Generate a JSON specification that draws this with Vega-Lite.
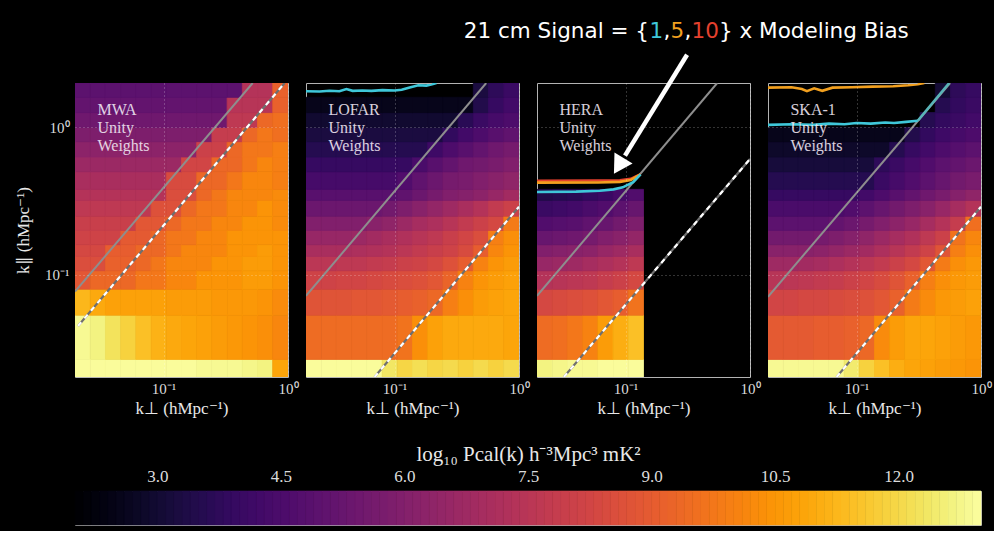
{
"$schema":"https://vega.github.io/schema/vega-lite/v6.json",
"background":"black",
"padding":{"left":14,"top":20,"right":5,"bottom":5},
"datasets":{
"xb":[{"i":0,"x":0.0194,"xe":0.0257},{"i":1,"x":0.0257,"xe":0.0341},{"i":2,"x":0.0341,"xe":0.0452},{"i":3,"x":0.0452,"xe":0.0599},{"i":4,"x":0.0599,"xe":0.0793},{"i":5,"x":0.0793,"xe":0.1051},{"i":6,"x":0.1051,"xe":0.1393},{"i":7,"x":0.1393,"xe":0.1845},{"i":8,"x":0.1845,"xe":0.2445},{"i":9,"x":0.2445,"xe":0.324},{"i":10,"x":0.324,"xe":0.4293},{"i":11,"x":0.4293,"xe":0.5688},{"i":12,"x":0.5688,"xe":0.7537},{"i":13,"x":0.7537,"xe":1.0}],
"yb":[{"j":0,"y":0.02,"ye":0.0267},{"j":1,"y":0.0267,"ye":0.0533},{"j":2,"y":0.0533,"ye":0.08},{"j":3,"y":0.08,"ye":0.1067},{"j":4,"y":0.1067,"ye":0.1333},{"j":5,"y":0.1333,"ye":0.16},{"j":6,"y":0.16,"ye":0.2},{"j":7,"y":0.2,"ye":0.25},{"j":8,"y":0.25,"ye":0.32},{"j":9,"y":0.32,"ye":0.38},{"j":10,"y":0.38,"ye":0.5},{"j":11,"y":0.5,"ye":0.63},{"j":12,"y":0.63,"ye":0.8},{"j":13,"y":0.8,"ye":1.0},{"j":14,"y":1.0,"ye":1.26},{"j":15,"y":1.26,"ye":1.6},{"j":16,"y":1.6,"ye":2.0}],
"cb":[{"a":2.0,"b":2.1},{"a":2.1,"b":2.2},{"a":2.2,"b":2.3},{"a":2.3,"b":2.4},{"a":2.4,"b":2.5},{"a":2.5,"b":2.6},{"a":2.6,"b":2.7},{"a":2.7,"b":2.8},{"a":2.8,"b":2.9},{"a":2.9,"b":3.0},{"a":3.0,"b":3.1},{"a":3.1,"b":3.2},{"a":3.2,"b":3.3},{"a":3.3,"b":3.4},{"a":3.4,"b":3.5},{"a":3.5,"b":3.6},{"a":3.6,"b":3.7},{"a":3.7,"b":3.8},{"a":3.8,"b":3.9},{"a":3.9,"b":4.0},{"a":4.0,"b":4.1},{"a":4.1,"b":4.2},{"a":4.2,"b":4.3},{"a":4.3,"b":4.4},{"a":4.4,"b":4.5},{"a":4.5,"b":4.6},{"a":4.6,"b":4.7},{"a":4.7,"b":4.8},{"a":4.8,"b":4.9},{"a":4.9,"b":5.0},{"a":5.0,"b":5.1},{"a":5.1,"b":5.2},{"a":5.2,"b":5.3},{"a":5.3,"b":5.4},{"a":5.4,"b":5.5},{"a":5.5,"b":5.6},{"a":5.6,"b":5.7},{"a":5.7,"b":5.8},{"a":5.8,"b":5.9},{"a":5.9,"b":6.0},{"a":6.0,"b":6.1},{"a":6.1,"b":6.2},{"a":6.2,"b":6.3},{"a":6.3,"b":6.4},{"a":6.4,"b":6.5},{"a":6.5,"b":6.6},{"a":6.6,"b":6.7},{"a":6.7,"b":6.8},{"a":6.8,"b":6.9},{"a":6.9,"b":7.0},{"a":7.0,"b":7.1},{"a":7.1,"b":7.2},{"a":7.2,"b":7.3},{"a":7.3,"b":7.4},{"a":7.4,"b":7.5},{"a":7.5,"b":7.6},{"a":7.6,"b":7.7},{"a":7.7,"b":7.8},{"a":7.8,"b":7.9},{"a":7.9,"b":8.0},{"a":8.0,"b":8.1},{"a":8.1,"b":8.2},{"a":8.2,"b":8.3},{"a":8.3,"b":8.4},{"a":8.4,"b":8.5},{"a":8.5,"b":8.6},{"a":8.6,"b":8.7},{"a":8.7,"b":8.8},{"a":8.8,"b":8.9},{"a":8.9,"b":9.0},{"a":9.0,"b":9.1},{"a":9.1,"b":9.2},{"a":9.2,"b":9.3},{"a":9.3,"b":9.4},{"a":9.4,"b":9.5},{"a":9.5,"b":9.6},{"a":9.6,"b":9.7},{"a":9.7,"b":9.8},{"a":9.8,"b":9.9},{"a":9.9,"b":10.0},{"a":10.0,"b":10.1},{"a":10.1,"b":10.2},{"a":10.2,"b":10.3},{"a":10.3,"b":10.4},{"a":10.4,"b":10.5},{"a":10.5,"b":10.6},{"a":10.6,"b":10.7},{"a":10.7,"b":10.8},{"a":10.8,"b":10.9},{"a":10.9,"b":11.0},{"a":11.0,"b":11.1},{"a":11.1,"b":11.2},{"a":11.2,"b":11.3},{"a":11.3,"b":11.4},{"a":11.4,"b":11.5},{"a":11.5,"b":11.6},{"a":11.6,"b":11.7},{"a":11.7,"b":11.8},{"a":11.8,"b":11.9},{"a":11.9,"b":12.0},{"a":12.0,"b":12.1},{"a":12.1,"b":12.2},{"a":12.2,"b":12.3},{"a":12.3,"b":12.4},{"a":12.4,"b":12.5},{"a":12.5,"b":12.6},{"a":12.6,"b":12.7},{"a":12.7,"b":12.8},{"a":12.8,"b":12.9},{"a":12.9,"b":13.0}],
"m":[
{"p":"M","i":0,"j":0,"v":12.9},{"p":"M","i":1,"j":0,"v":12.9},{"p":"M","i":2,"j":0,"v":12.9},{"p":"M","i":3,"j":0,"v":12.9},{"p":"M","i":4,"j":0,"v":12.9},{"p":"M","i":5,"j":0,"v":12.9},{"p":"M","i":6,"j":0,"v":12.9},{"p":"M","i":7,"j":0,"v":12.9},{"p":"M","i":8,"j":0,"v":12.8},{"p":"M","i":9,"j":0,"v":12.8},{"p":"M","i":10,"j":0,"v":12.8},{"p":"M","i":11,"j":0,"v":12.7},{"p":"M","i":12,"j":0,"v":12.6},{"p":"M","i":13,"j":0,"v":10.8},
{"p":"M","i":0,"j":1,"v":12.8},{"p":"M","i":1,"j":1,"v":12.6},{"p":"M","i":2,"j":1,"v":12.2},{"p":"M","i":3,"j":1,"v":11.8},{"p":"M","i":4,"j":1,"v":11.4},{"p":"M","i":5,"j":1,"v":11.1},{"p":"M","i":6,"j":1,"v":10.9},{"p":"M","i":7,"j":1,"v":10.8},{"p":"M","i":8,"j":1,"v":10.7},{"p":"M","i":9,"j":1,"v":10.6},{"p":"M","i":10,"j":1,"v":10.5},{"p":"M","i":11,"j":1,"v":10.4},{"p":"M","i":12,"j":1,"v":10.3},{"p":"M","i":13,"j":1,"v":10.1},
{"p":"M","i":0,"j":2,"v":11.2},{"p":"M","i":1,"j":2,"v":10.9},{"p":"M","i":2,"j":2,"v":10.7},{"p":"M","i":3,"j":2,"v":10.7},{"p":"M","i":4,"j":2,"v":10.7},{"p":"M","i":5,"j":2,"v":10.7},{"p":"M","i":6,"j":2,"v":10.6},{"p":"M","i":7,"j":2,"v":10.6},{"p":"M","i":8,"j":2,"v":10.6},{"p":"M","i":9,"j":2,"v":10.5},{"p":"M","i":10,"j":2,"v":10.5},{"p":"M","i":11,"j":2,"v":10.5},{"p":"M","i":12,"j":2,"v":10.4},{"p":"M","i":13,"j":2,"v":10.2},
{"p":"M","i":0,"j":3,"v":8.8},{"p":"M","i":1,"j":3,"v":9.3},{"p":"M","i":2,"j":3,"v":9.3},{"p":"M","i":3,"j":3,"v":9.3},{"p":"M","i":4,"j":3,"v":9.7},{"p":"M","i":5,"j":3,"v":9.7},{"p":"M","i":6,"j":3,"v":10.1},{"p":"M","i":7,"j":3,"v":10.1},{"p":"M","i":8,"j":3,"v":10.4},{"p":"M","i":9,"j":3,"v":10.4},{"p":"M","i":10,"j":3,"v":10.4},{"p":"M","i":11,"j":3,"v":10.6},{"p":"M","i":12,"j":3,"v":10.6},{"p":"M","i":13,"j":3,"v":10.4},
{"p":"M","i":0,"j":4,"v":8.5},{"p":"M","i":1,"j":4,"v":8.5},{"p":"M","i":2,"j":4,"v":9.1},{"p":"M","i":3,"j":4,"v":9.1},{"p":"M","i":4,"j":4,"v":9.3},{"p":"M","i":5,"j":4,"v":9.7},{"p":"M","i":6,"j":4,"v":10.1},{"p":"M","i":7,"j":4,"v":10.1},{"p":"M","i":8,"j":4,"v":10.1},{"p":"M","i":9,"j":4,"v":10.4},{"p":"M","i":10,"j":4,"v":10.4},{"p":"M","i":11,"j":4,"v":10.6},{"p":"M","i":12,"j":4,"v":10.6},{"p":"M","i":13,"j":4,"v":10.4},
{"p":"M","i":0,"j":5,"v":8.3},{"p":"M","i":1,"j":5,"v":8.3},{"p":"M","i":2,"j":5,"v":9.0},{"p":"M","i":3,"j":5,"v":9.0},{"p":"M","i":4,"j":5,"v":9.3},{"p":"M","i":5,"j":5,"v":9.3},{"p":"M","i":6,"j":5,"v":9.7},{"p":"M","i":7,"j":5,"v":10.1},{"p":"M","i":8,"j":5,"v":10.1},{"p":"M","i":9,"j":5,"v":10.1},{"p":"M","i":10,"j":5,"v":10.4},{"p":"M","i":11,"j":5,"v":10.4},{"p":"M","i":12,"j":5,"v":10.6},{"p":"M","i":13,"j":5,"v":10.4},
{"p":"M","i":0,"j":6,"v":8.1},{"p":"M","i":1,"j":6,"v":8.1},{"p":"M","i":2,"j":6,"v":8.1},{"p":"M","i":3,"j":6,"v":8.9},{"p":"M","i":4,"j":6,"v":8.9},{"p":"M","i":5,"j":6,"v":9.3},{"p":"M","i":6,"j":6,"v":9.7},{"p":"M","i":7,"j":6,"v":9.7},{"p":"M","i":8,"j":6,"v":10.1},{"p":"M","i":9,"j":6,"v":10.1},{"p":"M","i":10,"j":6,"v":10.4},{"p":"M","i":11,"j":6,"v":10.4},{"p":"M","i":12,"j":6,"v":10.4},{"p":"M","i":13,"j":6,"v":10.4},
{"p":"M","i":0,"j":7,"v":7.9},{"p":"M","i":1,"j":7,"v":7.9},{"p":"M","i":2,"j":7,"v":7.9},{"p":"M","i":3,"j":7,"v":7.9},{"p":"M","i":4,"j":7,"v":8.8},{"p":"M","i":5,"j":7,"v":8.8},{"p":"M","i":6,"j":7,"v":9.3},{"p":"M","i":7,"j":7,"v":9.7},{"p":"M","i":8,"j":7,"v":9.7},{"p":"M","i":9,"j":7,"v":10.1},{"p":"M","i":10,"j":7,"v":10.1},{"p":"M","i":11,"j":7,"v":10.4},{"p":"M","i":12,"j":7,"v":10.4},{"p":"M","i":13,"j":7,"v":10.2},
{"p":"M","i":0,"j":8,"v":7.6},{"p":"M","i":1,"j":8,"v":7.6},{"p":"M","i":2,"j":8,"v":7.6},{"p":"M","i":3,"j":8,"v":7.6},{"p":"M","i":4,"j":8,"v":7.6},{"p":"M","i":5,"j":8,"v":8.6},{"p":"M","i":6,"j":8,"v":8.6},{"p":"M","i":7,"j":8,"v":9.3},{"p":"M","i":8,"j":8,"v":9.7},{"p":"M","i":9,"j":8,"v":9.7},{"p":"M","i":10,"j":8,"v":10.1},{"p":"M","i":11,"j":8,"v":10.1},{"p":"M","i":12,"j":8,"v":10.4},{"p":"M","i":13,"j":8,"v":10.2},
{"p":"M","i":0,"j":9,"v":7.3},{"p":"M","i":1,"j":9,"v":7.3},{"p":"M","i":2,"j":9,"v":7.3},{"p":"M","i":3,"j":9,"v":7.3},{"p":"M","i":4,"j":9,"v":7.3},{"p":"M","i":5,"j":9,"v":7.3},{"p":"M","i":6,"j":9,"v":8.5},{"p":"M","i":7,"j":9,"v":8.5},{"p":"M","i":8,"j":9,"v":9.3},{"p":"M","i":9,"j":9,"v":9.7},{"p":"M","i":10,"j":9,"v":10.1},{"p":"M","i":11,"j":9,"v":10.1},{"p":"M","i":12,"j":9,"v":10.1},{"p":"M","i":13,"j":9,"v":10.2},
{"p":"M","i":0,"j":10,"v":7.0},{"p":"M","i":1,"j":10,"v":7.0},{"p":"M","i":2,"j":10,"v":7.0},{"p":"M","i":3,"j":10,"v":7.0},{"p":"M","i":4,"j":10,"v":7.0},{"p":"M","i":5,"j":10,"v":7.0},{"p":"M","i":6,"j":10,"v":8.4},{"p":"M","i":7,"j":10,"v":8.4},{"p":"M","i":8,"j":10,"v":9.3},{"p":"M","i":9,"j":10,"v":9.3},{"p":"M","i":10,"j":10,"v":9.7},{"p":"M","i":11,"j":10,"v":10.1},{"p":"M","i":12,"j":10,"v":10.1},{"p":"M","i":13,"j":10,"v":9.9},
{"p":"M","i":0,"j":11,"v":6.6},{"p":"M","i":1,"j":11,"v":6.6},{"p":"M","i":2,"j":11,"v":6.6},{"p":"M","i":3,"j":11,"v":6.6},{"p":"M","i":4,"j":11,"v":6.6},{"p":"M","i":5,"j":11,"v":6.6},{"p":"M","i":6,"j":11,"v":6.6},{"p":"M","i":7,"j":11,"v":8.2},{"p":"M","i":8,"j":11,"v":8.2},{"p":"M","i":9,"j":11,"v":9.3},{"p":"M","i":10,"j":11,"v":9.3},{"p":"M","i":11,"j":11,"v":9.7},{"p":"M","i":12,"j":11,"v":10.1},{"p":"M","i":13,"j":11,"v":9.9},
{"p":"M","i":0,"j":12,"v":6.2},{"p":"M","i":1,"j":12,"v":6.2},{"p":"M","i":2,"j":12,"v":6.2},{"p":"M","i":3,"j":12,"v":6.2},{"p":"M","i":4,"j":12,"v":6.2},{"p":"M","i":5,"j":12,"v":6.2},{"p":"M","i":6,"j":12,"v":6.2},{"p":"M","i":7,"j":12,"v":6.2},{"p":"M","i":8,"j":12,"v":8.0},{"p":"M","i":9,"j":12,"v":8.0},{"p":"M","i":10,"j":12,"v":9.3},{"p":"M","i":11,"j":12,"v":9.7},{"p":"M","i":12,"j":12,"v":9.7},{"p":"M","i":13,"j":12,"v":9.9},
{"p":"M","i":0,"j":13,"v":5.8},{"p":"M","i":1,"j":13,"v":5.8},{"p":"M","i":2,"j":13,"v":5.8},{"p":"M","i":3,"j":13,"v":5.8},{"p":"M","i":4,"j":13,"v":5.8},{"p":"M","i":5,"j":13,"v":5.8},{"p":"M","i":6,"j":13,"v":5.8},{"p":"M","i":7,"j":13,"v":5.8},{"p":"M","i":8,"j":13,"v":5.8},{"p":"M","i":9,"j":13,"v":7.8},{"p":"M","i":10,"j":13,"v":7.8},{"p":"M","i":11,"j":13,"v":9.3},{"p":"M","i":12,"j":13,"v":9.7},{"p":"M","i":13,"j":13,"v":9.5},
{"p":"M","i":0,"j":14,"v":5.4},{"p":"M","i":1,"j":14,"v":5.4},{"p":"M","i":2,"j":14,"v":5.4},{"p":"M","i":3,"j":14,"v":5.4},{"p":"M","i":4,"j":14,"v":5.4},{"p":"M","i":5,"j":14,"v":5.4},{"p":"M","i":6,"j":14,"v":5.4},{"p":"M","i":7,"j":14,"v":5.4},{"p":"M","i":8,"j":14,"v":5.4},{"p":"M","i":9,"j":14,"v":5.4},{"p":"M","i":10,"j":14,"v":7.6},{"p":"M","i":11,"j":14,"v":7.6},{"p":"M","i":12,"j":14,"v":9.3},{"p":"M","i":13,"j":14,"v":9.5},
{"p":"M","i":0,"j":15,"v":5.1},{"p":"M","i":1,"j":15,"v":5.1},{"p":"M","i":2,"j":15,"v":5.1},{"p":"M","i":3,"j":15,"v":5.1},{"p":"M","i":4,"j":15,"v":5.1},{"p":"M","i":5,"j":15,"v":5.1},{"p":"M","i":6,"j":15,"v":5.1},{"p":"M","i":7,"j":15,"v":5.1},{"p":"M","i":8,"j":15,"v":5.1},{"p":"M","i":9,"j":15,"v":5.1},{"p":"M","i":10,"j":15,"v":7.4},{"p":"M","i":11,"j":15,"v":7.4},{"p":"M","i":12,"j":15,"v":7.4},{"p":"M","i":13,"j":15,"v":9.1},
{"p":"M","i":0,"j":16,"v":4.9},{"p":"M","i":1,"j":16,"v":4.9},{"p":"M","i":2,"j":16,"v":4.9},{"p":"M","i":3,"j":16,"v":4.9},{"p":"M","i":4,"j":16,"v":4.9},{"p":"M","i":5,"j":16,"v":4.9},{"p":"M","i":6,"j":16,"v":4.9},{"p":"M","i":7,"j":16,"v":4.9},{"p":"M","i":8,"j":16,"v":4.9},{"p":"M","i":9,"j":16,"v":4.9},{"p":"M","i":10,"j":16,"v":4.9},{"p":"M","i":11,"j":16,"v":7.3},{"p":"M","i":12,"j":16,"v":7.3},{"p":"M","i":13,"j":16,"v":9.1},
{"p":"L","i":0,"j":0,"v":12.9},{"p":"L","i":1,"j":0,"v":12.9},{"p":"L","i":2,"j":0,"v":12.9},{"p":"L","i":3,"j":0,"v":12.9},{"p":"L","i":4,"j":0,"v":12.9},{"p":"L","i":5,"j":0,"v":12.3},{"p":"L","i":6,"j":0,"v":11.9},{"p":"L","i":7,"j":0,"v":12.1},{"p":"L","i":8,"j":0,"v":11.9},{"p":"L","i":9,"j":0,"v":12.0},{"p":"L","i":10,"j":0,"v":11.8},{"p":"L","i":11,"j":0,"v":12.0},{"p":"L","i":12,"j":0,"v":11.8},{"p":"L","i":13,"j":0,"v":12.0},
{"p":"L","i":0,"j":1,"v":9.4},{"p":"L","i":1,"j":1,"v":9.4},{"p":"L","i":2,"j":1,"v":9.4},{"p":"L","i":3,"j":1,"v":9.4},{"p":"L","i":4,"j":1,"v":9.4},{"p":"L","i":5,"j":1,"v":9.4},{"p":"L","i":6,"j":1,"v":9.6},{"p":"L","i":7,"j":1,"v":10.3},{"p":"L","i":8,"j":1,"v":10.7},{"p":"L","i":9,"j":1,"v":10.9},{"p":"L","i":10,"j":1,"v":10.9},{"p":"L","i":11,"j":1,"v":10.9},{"p":"L","i":12,"j":1,"v":10.9},{"p":"L","i":13,"j":1,"v":10.8},
{"p":"L","i":0,"j":2,"v":8.7},{"p":"L","i":1,"j":2,"v":8.7},{"p":"L","i":2,"j":2,"v":8.7},{"p":"L","i":3,"j":2,"v":8.8},{"p":"L","i":4,"j":2,"v":8.8},{"p":"L","i":5,"j":2,"v":8.9},{"p":"L","i":6,"j":2,"v":9.0},{"p":"L","i":7,"j":2,"v":9.1},{"p":"L","i":8,"j":2,"v":9.3},{"p":"L","i":9,"j":2,"v":9.9},{"p":"L","i":10,"j":2,"v":10.3},{"p":"L","i":11,"j":2,"v":10.6},{"p":"L","i":12,"j":2,"v":10.7},{"p":"L","i":13,"j":2,"v":10.8},
{"p":"L","i":0,"j":3,"v":8.1},{"p":"L","i":1,"j":3,"v":8.1},{"p":"L","i":2,"j":3,"v":8.2},{"p":"L","i":3,"j":3,"v":8.2},{"p":"L","i":4,"j":3,"v":8.3},{"p":"L","i":5,"j":3,"v":8.4},{"p":"L","i":6,"j":3,"v":8.5},{"p":"L","i":7,"j":3,"v":8.6},{"p":"L","i":8,"j":3,"v":8.8},{"p":"L","i":9,"j":3,"v":9.2},{"p":"L","i":10,"j":3,"v":10.0},{"p":"L","i":11,"j":3,"v":10.4},{"p":"L","i":12,"j":3,"v":10.6},{"p":"L","i":13,"j":3,"v":10.7},
{"p":"L","i":0,"j":4,"v":7.5},{"p":"L","i":1,"j":4,"v":7.5},{"p":"L","i":2,"j":4,"v":7.6},{"p":"L","i":3,"j":4,"v":7.6},{"p":"L","i":4,"j":4,"v":7.7},{"p":"L","i":5,"j":4,"v":7.8},{"p":"L","i":6,"j":4,"v":8.0},{"p":"L","i":7,"j":4,"v":8.1},{"p":"L","i":8,"j":4,"v":8.3},{"p":"L","i":9,"j":4,"v":8.6},{"p":"L","i":10,"j":4,"v":9.0},{"p":"L","i":11,"j":4,"v":10.0},{"p":"L","i":12,"j":4,"v":10.4},{"p":"L","i":13,"j":4,"v":10.6},
{"p":"L","i":0,"j":5,"v":7.0},{"p":"L","i":1,"j":5,"v":7.0},{"p":"L","i":2,"j":5,"v":7.0},{"p":"L","i":3,"j":5,"v":7.1},{"p":"L","i":4,"j":5,"v":7.2},{"p":"L","i":5,"j":5,"v":7.3},{"p":"L","i":6,"j":5,"v":7.5},{"p":"L","i":7,"j":5,"v":7.7},{"p":"L","i":8,"j":5,"v":7.9},{"p":"L","i":9,"j":5,"v":8.1},{"p":"L","i":10,"j":5,"v":8.4},{"p":"L","i":11,"j":5,"v":9.0},{"p":"L","i":12,"j":5,"v":10.1},{"p":"L","i":13,"j":5,"v":10.4},
{"p":"L","i":0,"j":6,"v":6.5},{"p":"L","i":1,"j":6,"v":6.5},{"p":"L","i":2,"j":6,"v":6.5},{"p":"L","i":3,"j":6,"v":6.6},{"p":"L","i":4,"j":6,"v":6.8},{"p":"L","i":5,"j":6,"v":7.0},{"p":"L","i":6,"j":6,"v":7.2},{"p":"L","i":7,"j":6,"v":7.4},{"p":"L","i":8,"j":6,"v":7.6},{"p":"L","i":9,"j":6,"v":7.9},{"p":"L","i":10,"j":6,"v":8.2},{"p":"L","i":11,"j":6,"v":8.5},{"p":"L","i":12,"j":6,"v":9.9},{"p":"L","i":13,"j":6,"v":10.3},
{"p":"L","i":0,"j":7,"v":5.9},{"p":"L","i":1,"j":7,"v":5.9},{"p":"L","i":2,"j":7,"v":5.9},{"p":"L","i":3,"j":7,"v":5.9},{"p":"L","i":4,"j":7,"v":6.1},{"p":"L","i":5,"j":7,"v":6.3},{"p":"L","i":6,"j":7,"v":6.6},{"p":"L","i":7,"j":7,"v":6.9},{"p":"L","i":8,"j":7,"v":7.1},{"p":"L","i":9,"j":7,"v":7.4},{"p":"L","i":10,"j":7,"v":7.7},{"p":"L","i":11,"j":7,"v":8.0},{"p":"L","i":12,"j":7,"v":8.3},{"p":"L","i":13,"j":7,"v":9.8},
{"p":"L","i":0,"j":8,"v":5.3},{"p":"L","i":1,"j":8,"v":5.3},{"p":"L","i":2,"j":8,"v":5.3},{"p":"L","i":3,"j":8,"v":5.3},{"p":"L","i":4,"j":8,"v":5.3},{"p":"L","i":5,"j":8,"v":5.5},{"p":"L","i":6,"j":8,"v":5.8},{"p":"L","i":7,"j":8,"v":6.1},{"p":"L","i":8,"j":8,"v":6.4},{"p":"L","i":9,"j":8,"v":6.7},{"p":"L","i":10,"j":8,"v":7.0},{"p":"L","i":11,"j":8,"v":7.3},{"p":"L","i":12,"j":8,"v":7.7},{"p":"L","i":13,"j":8,"v":8.0},
{"p":"L","i":0,"j":9,"v":4.8},{"p":"L","i":1,"j":9,"v":4.8},{"p":"L","i":2,"j":9,"v":4.8},{"p":"L","i":3,"j":9,"v":4.8},{"p":"L","i":4,"j":9,"v":4.8},{"p":"L","i":5,"j":9,"v":4.8},{"p":"L","i":6,"j":9,"v":5.0},{"p":"L","i":7,"j":9,"v":5.3},{"p":"L","i":8,"j":9,"v":5.6},{"p":"L","i":9,"j":9,"v":5.9},{"p":"L","i":10,"j":9,"v":6.0},{"p":"L","i":11,"j":9,"v":6.2},{"p":"L","i":12,"j":9,"v":6.5},{"p":"L","i":13,"j":9,"v":6.8},
{"p":"L","i":0,"j":10,"v":4.3},{"p":"L","i":1,"j":10,"v":4.3},{"p":"L","i":2,"j":10,"v":4.3},{"p":"L","i":3,"j":10,"v":4.3},{"p":"L","i":4,"j":10,"v":4.3},{"p":"L","i":5,"j":10,"v":4.3},{"p":"L","i":6,"j":10,"v":4.6},{"p":"L","i":7,"j":10,"v":5.0},{"p":"L","i":8,"j":10,"v":5.3},{"p":"L","i":9,"j":10,"v":5.6},{"p":"L","i":10,"j":10,"v":5.7},{"p":"L","i":11,"j":10,"v":5.9},{"p":"L","i":12,"j":10,"v":6.1},{"p":"L","i":13,"j":10,"v":6.3},
{"p":"L","i":0,"j":11,"v":3.9},{"p":"L","i":1,"j":11,"v":3.9},{"p":"L","i":2,"j":11,"v":3.9},{"p":"L","i":3,"j":11,"v":3.9},{"p":"L","i":4,"j":11,"v":3.9},{"p":"L","i":5,"j":11,"v":3.9},{"p":"L","i":6,"j":11,"v":3.9},{"p":"L","i":7,"j":11,"v":4.4},{"p":"L","i":8,"j":11,"v":4.8},{"p":"L","i":9,"j":11,"v":5.1},{"p":"L","i":10,"j":11,"v":5.4},{"p":"L","i":11,"j":11,"v":5.5},{"p":"L","i":12,"j":11,"v":5.7},{"p":"L","i":13,"j":11,"v":5.9},
{"p":"L","i":0,"j":12,"v":3.5},{"p":"L","i":1,"j":12,"v":3.5},{"p":"L","i":2,"j":12,"v":3.5},{"p":"L","i":3,"j":12,"v":3.5},{"p":"L","i":4,"j":12,"v":3.5},{"p":"L","i":5,"j":12,"v":3.5},{"p":"L","i":6,"j":12,"v":3.5},{"p":"L","i":7,"j":12,"v":3.5},{"p":"L","i":8,"j":12,"v":4.1},{"p":"L","i":9,"j":12,"v":4.5},{"p":"L","i":10,"j":12,"v":4.8},{"p":"L","i":11,"j":12,"v":5.1},{"p":"L","i":12,"j":12,"v":5.4},{"p":"L","i":13,"j":12,"v":5.6},
{"p":"L","i":0,"j":13,"v":3.2},{"p":"L","i":1,"j":13,"v":3.2},{"p":"L","i":2,"j":13,"v":3.2},{"p":"L","i":3,"j":13,"v":3.2},{"p":"L","i":4,"j":13,"v":3.2},{"p":"L","i":5,"j":13,"v":3.2},{"p":"L","i":6,"j":13,"v":3.2},{"p":"L","i":7,"j":13,"v":3.2},{"p":"L","i":8,"j":13,"v":3.2},{"p":"L","i":9,"j":13,"v":3.8},{"p":"L","i":10,"j":13,"v":4.2},{"p":"L","i":11,"j":13,"v":4.5},{"p":"L","i":12,"j":13,"v":4.8},{"p":"L","i":13,"j":13,"v":5.0},
{"p":"L","i":0,"j":14,"v":2.9},{"p":"L","i":1,"j":14,"v":2.9},{"p":"L","i":2,"j":14,"v":2.9},{"p":"L","i":3,"j":14,"v":2.9},{"p":"L","i":4,"j":14,"v":2.9},{"p":"L","i":5,"j":14,"v":2.9},{"p":"L","i":6,"j":14,"v":2.9},{"p":"L","i":7,"j":14,"v":2.9},{"p":"L","i":8,"j":14,"v":2.9},{"p":"L","i":9,"j":14,"v":2.9},{"p":"L","i":10,"j":14,"v":3.6},{"p":"L","i":11,"j":14,"v":4.0},{"p":"L","i":12,"j":14,"v":4.3},{"p":"L","i":13,"j":14,"v":4.5},
{"p":"L","i":0,"j":15,"v":2.5},{"p":"L","i":1,"j":15,"v":2.5},{"p":"L","i":2,"j":15,"v":2.5},{"p":"L","i":3,"j":15,"v":2.5},{"p":"L","i":4,"j":15,"v":2.5},{"p":"L","i":5,"j":15,"v":2.5},{"p":"L","i":6,"j":15,"v":2.5},{"p":"L","i":7,"j":15,"v":2.5},{"p":"L","i":8,"j":15,"v":2.5},{"p":"L","i":9,"j":15,"v":2.5},{"p":"L","i":10,"j":15,"v":2.5},{"p":"L","i":11,"j":15,"v":3.4},{"p":"L","i":12,"j":15,"v":3.9},{"p":"L","i":13,"j":15,"v":4.2},
{"p":"L","i":11,"j":16,"v":3.2},{"p":"L","i":12,"j":16,"v":3.7},{"p":"L","i":13,"j":16,"v":4.0},
{"p":"H","i":0,"j":0,"v":12.6},{"p":"H","i":1,"j":0,"v":12.7},{"p":"H","i":2,"j":0,"v":12.8},{"p":"H","i":3,"j":0,"v":12.8},{"p":"H","i":4,"j":0,"v":12.9},{"p":"H","i":5,"j":0,"v":12.9},{"p":"H","i":6,"j":0,"v":12.9},
{"p":"H","i":0,"j":1,"v":9.4},{"p":"H","i":1,"j":1,"v":9.5},{"p":"H","i":2,"j":1,"v":9.7},{"p":"H","i":3,"j":1,"v":10.0},{"p":"H","i":4,"j":1,"v":10.6},{"p":"H","i":5,"j":1,"v":11.0},{"p":"H","i":6,"j":1,"v":11.4},
{"p":"H","i":0,"j":2,"v":8.3},{"p":"H","i":1,"j":2,"v":8.4},{"p":"H","i":2,"j":2,"v":8.5},{"p":"H","i":3,"j":2,"v":8.6},{"p":"H","i":4,"j":2,"v":8.8},{"p":"H","i":5,"j":2,"v":9.0},{"p":"H","i":6,"j":2,"v":9.6},
{"p":"H","i":0,"j":3,"v":7.3},{"p":"H","i":1,"j":3,"v":7.4},{"p":"H","i":2,"j":3,"v":7.5},{"p":"H","i":3,"j":3,"v":7.6},{"p":"H","i":4,"j":3,"v":7.8},{"p":"H","i":5,"j":3,"v":8.0},{"p":"H","i":6,"j":3,"v":8.3},
{"p":"H","i":0,"j":4,"v":6.5},{"p":"H","i":1,"j":4,"v":6.6},{"p":"H","i":2,"j":4,"v":6.7},{"p":"H","i":3,"j":4,"v":6.9},{"p":"H","i":4,"j":4,"v":7.1},{"p":"H","i":5,"j":4,"v":7.3},{"p":"H","i":6,"j":4,"v":7.6},
{"p":"H","i":0,"j":5,"v":5.9},{"p":"H","i":1,"j":5,"v":6.0},{"p":"H","i":2,"j":5,"v":6.1},{"p":"H","i":3,"j":5,"v":6.2},{"p":"H","i":4,"j":5,"v":6.5},{"p":"H","i":5,"j":5,"v":6.7},{"p":"H","i":6,"j":5,"v":7.0},
{"p":"H","i":0,"j":6,"v":5.2},{"p":"H","i":1,"j":6,"v":5.3},{"p":"H","i":2,"j":6,"v":5.4},{"p":"H","i":3,"j":6,"v":5.6},{"p":"H","i":4,"j":6,"v":5.9},{"p":"H","i":5,"j":6,"v":6.1},{"p":"H","i":6,"j":6,"v":6.4},
{"p":"H","i":0,"j":7,"v":4.6},{"p":"H","i":1,"j":7,"v":4.7},{"p":"H","i":2,"j":7,"v":4.8},{"p":"H","i":3,"j":7,"v":5.0},{"p":"H","i":4,"j":7,"v":5.2},{"p":"H","i":5,"j":7,"v":5.5},{"p":"H","i":6,"j":7,"v":5.8},
{"p":"H","i":0,"j":8,"v":4.0},{"p":"H","i":1,"j":8,"v":4.1},{"p":"H","i":2,"j":8,"v":4.2},{"p":"H","i":3,"j":8,"v":4.4},{"p":"H","i":4,"j":8,"v":4.6},{"p":"H","i":5,"j":8,"v":4.9},{"p":"H","i":6,"j":8,"v":5.2},
{"p":"H","i":0,"j":9,"v":3.4},{"p":"H","i":1,"j":9,"v":3.5},{"p":"H","i":2,"j":9,"v":3.6},{"p":"H","i":3,"j":9,"v":3.8},{"p":"H","i":4,"j":9,"v":4.0},{"p":"H","i":5,"j":9,"v":4.3},{"p":"H","i":6,"j":9,"v":4.6},
{"p":"S","i":0,"j":0,"v":12.8},{"p":"S","i":1,"j":0,"v":12.8},{"p":"S","i":2,"j":0,"v":12.8},{"p":"S","i":3,"j":0,"v":12.8},{"p":"S","i":4,"j":0,"v":12.8},{"p":"S","i":5,"j":0,"v":12.4},{"p":"S","i":6,"j":0,"v":11.8},{"p":"S","i":7,"j":0,"v":11.4},{"p":"S","i":8,"j":0,"v":11.0},{"p":"S","i":9,"j":0,"v":10.8},{"p":"S","i":10,"j":0,"v":10.7},{"p":"S","i":11,"j":0,"v":10.6},{"p":"S","i":12,"j":0,"v":10.5},{"p":"S","i":13,"j":0,"v":10.4},
{"p":"S","i":0,"j":1,"v":8.9},{"p":"S","i":1,"j":1,"v":8.9},{"p":"S","i":2,"j":1,"v":8.9},{"p":"S","i":3,"j":1,"v":9.0},{"p":"S","i":4,"j":1,"v":9.0},{"p":"S","i":5,"j":1,"v":9.1},{"p":"S","i":6,"j":1,"v":9.3},{"p":"S","i":7,"j":1,"v":10.2},{"p":"S","i":8,"j":1,"v":10.6},{"p":"S","i":9,"j":1,"v":10.8},{"p":"S","i":10,"j":1,"v":10.8},{"p":"S","i":11,"j":1,"v":10.7},{"p":"S","i":12,"j":1,"v":10.6},{"p":"S","i":13,"j":1,"v":10.5},
{"p":"S","i":0,"j":2,"v":8.2},{"p":"S","i":1,"j":2,"v":8.2},{"p":"S","i":2,"j":2,"v":8.3},{"p":"S","i":3,"j":2,"v":8.3},{"p":"S","i":4,"j":2,"v":8.4},{"p":"S","i":5,"j":2,"v":8.5},{"p":"S","i":6,"j":2,"v":8.6},{"p":"S","i":7,"j":2,"v":8.8},{"p":"S","i":8,"j":2,"v":9.1},{"p":"S","i":9,"j":2,"v":9.8},{"p":"S","i":10,"j":2,"v":10.2},{"p":"S","i":11,"j":2,"v":10.5},{"p":"S","i":12,"j":2,"v":10.6},{"p":"S","i":13,"j":2,"v":10.7},
{"p":"S","i":0,"j":3,"v":7.4},{"p":"S","i":1,"j":3,"v":7.5},{"p":"S","i":2,"j":3,"v":7.6},{"p":"S","i":3,"j":3,"v":7.7},{"p":"S","i":4,"j":3,"v":7.8},{"p":"S","i":5,"j":3,"v":8.0},{"p":"S","i":6,"j":3,"v":8.2},{"p":"S","i":7,"j":3,"v":8.4},{"p":"S","i":8,"j":3,"v":8.7},{"p":"S","i":9,"j":3,"v":9.1},{"p":"S","i":10,"j":3,"v":9.9},{"p":"S","i":11,"j":3,"v":10.3},{"p":"S","i":12,"j":3,"v":10.5},{"p":"S","i":13,"j":3,"v":10.6},
{"p":"S","i":0,"j":4,"v":6.7},{"p":"S","i":1,"j":4,"v":6.7},{"p":"S","i":2,"j":4,"v":6.8},{"p":"S","i":3,"j":4,"v":6.9},{"p":"S","i":4,"j":4,"v":7.1},{"p":"S","i":5,"j":4,"v":7.3},{"p":"S","i":6,"j":4,"v":7.5},{"p":"S","i":7,"j":4,"v":7.7},{"p":"S","i":8,"j":4,"v":8.0},{"p":"S","i":9,"j":4,"v":8.3},{"p":"S","i":10,"j":4,"v":8.8},{"p":"S","i":11,"j":4,"v":9.8},{"p":"S","i":12,"j":4,"v":10.3},{"p":"S","i":13,"j":4,"v":10.5},
{"p":"S","i":0,"j":5,"v":6.1},{"p":"S","i":1,"j":5,"v":6.1},{"p":"S","i":2,"j":5,"v":6.1},{"p":"S","i":3,"j":5,"v":6.2},{"p":"S","i":4,"j":5,"v":6.4},{"p":"S","i":5,"j":5,"v":6.6},{"p":"S","i":6,"j":5,"v":6.8},{"p":"S","i":7,"j":5,"v":7.1},{"p":"S","i":8,"j":5,"v":7.4},{"p":"S","i":9,"j":5,"v":7.7},{"p":"S","i":10,"j":5,"v":8.1},{"p":"S","i":11,"j":5,"v":8.7},{"p":"S","i":12,"j":5,"v":9.9},{"p":"S","i":13,"j":5,"v":10.3},
{"p":"S","i":0,"j":6,"v":5.5},{"p":"S","i":1,"j":6,"v":5.5},{"p":"S","i":2,"j":6,"v":5.5},{"p":"S","i":3,"j":6,"v":5.6},{"p":"S","i":4,"j":6,"v":5.8},{"p":"S","i":5,"j":6,"v":6.0},{"p":"S","i":6,"j":6,"v":6.3},{"p":"S","i":7,"j":6,"v":6.6},{"p":"S","i":8,"j":6,"v":6.9},{"p":"S","i":9,"j":6,"v":7.2},{"p":"S","i":10,"j":6,"v":7.6},{"p":"S","i":11,"j":6,"v":8.0},{"p":"S","i":12,"j":6,"v":9.6},{"p":"S","i":13,"j":6,"v":10.1},
{"p":"S","i":0,"j":7,"v":4.9},{"p":"S","i":1,"j":7,"v":4.9},{"p":"S","i":2,"j":7,"v":4.9},{"p":"S","i":3,"j":7,"v":4.9},{"p":"S","i":4,"j":7,"v":5.1},{"p":"S","i":5,"j":7,"v":5.3},{"p":"S","i":6,"j":7,"v":5.6},{"p":"S","i":7,"j":7,"v":5.9},{"p":"S","i":8,"j":7,"v":6.2},{"p":"S","i":9,"j":7,"v":6.5},{"p":"S","i":10,"j":7,"v":6.9},{"p":"S","i":11,"j":7,"v":7.3},{"p":"S","i":12,"j":7,"v":7.8},{"p":"S","i":13,"j":7,"v":9.5},
{"p":"S","i":0,"j":8,"v":4.4},{"p":"S","i":1,"j":8,"v":4.4},{"p":"S","i":2,"j":8,"v":4.4},{"p":"S","i":3,"j":8,"v":4.4},{"p":"S","i":4,"j":8,"v":4.4},{"p":"S","i":5,"j":8,"v":4.6},{"p":"S","i":6,"j":8,"v":4.9},{"p":"S","i":7,"j":8,"v":5.2},{"p":"S","i":8,"j":8,"v":5.5},{"p":"S","i":9,"j":8,"v":5.8},{"p":"S","i":10,"j":8,"v":6.1},{"p":"S","i":11,"j":8,"v":6.5},{"p":"S","i":12,"j":8,"v":6.9},{"p":"S","i":13,"j":8,"v":7.3},
{"p":"S","i":0,"j":9,"v":3.9},{"p":"S","i":1,"j":9,"v":3.9},{"p":"S","i":2,"j":9,"v":3.9},{"p":"S","i":3,"j":9,"v":3.9},{"p":"S","i":4,"j":9,"v":3.9},{"p":"S","i":5,"j":9,"v":3.9},{"p":"S","i":6,"j":9,"v":4.2},{"p":"S","i":7,"j":9,"v":4.5},{"p":"S","i":8,"j":9,"v":4.8},{"p":"S","i":9,"j":9,"v":5.1},{"p":"S","i":10,"j":9,"v":5.4},{"p":"S","i":11,"j":9,"v":5.7},{"p":"S","i":12,"j":9,"v":6.0},{"p":"S","i":13,"j":9,"v":6.3},
{"p":"S","i":0,"j":10,"v":3.5},{"p":"S","i":1,"j":10,"v":3.5},{"p":"S","i":2,"j":10,"v":3.5},{"p":"S","i":3,"j":10,"v":3.5},{"p":"S","i":4,"j":10,"v":3.5},{"p":"S","i":5,"j":10,"v":3.5},{"p":"S","i":6,"j":10,"v":3.5},{"p":"S","i":7,"j":10,"v":4.0},{"p":"S","i":8,"j":10,"v":4.3},{"p":"S","i":9,"j":10,"v":4.6},{"p":"S","i":10,"j":10,"v":4.9},{"p":"S","i":11,"j":10,"v":5.2},{"p":"S","i":12,"j":10,"v":5.5},{"p":"S","i":13,"j":10,"v":5.7},
{"p":"S","i":0,"j":11,"v":3.1},{"p":"S","i":1,"j":11,"v":3.1},{"p":"S","i":2,"j":11,"v":3.1},{"p":"S","i":3,"j":11,"v":3.1},{"p":"S","i":4,"j":11,"v":3.1},{"p":"S","i":5,"j":11,"v":3.1},{"p":"S","i":6,"j":11,"v":3.1},{"p":"S","i":7,"j":11,"v":3.7},{"p":"S","i":8,"j":11,"v":4.0},{"p":"S","i":9,"j":11,"v":4.3},{"p":"S","i":10,"j":11,"v":4.6},{"p":"S","i":11,"j":11,"v":4.9},{"p":"S","i":12,"j":11,"v":5.1},{"p":"S","i":13,"j":11,"v":5.3},
{"p":"S","i":0,"j":12,"v":2.8},{"p":"S","i":1,"j":12,"v":2.8},{"p":"S","i":2,"j":12,"v":2.8},{"p":"S","i":3,"j":12,"v":2.8},{"p":"S","i":4,"j":12,"v":2.8},{"p":"S","i":5,"j":12,"v":2.8},{"p":"S","i":6,"j":12,"v":2.8},{"p":"S","i":7,"j":12,"v":2.8},{"p":"S","i":8,"j":12,"v":3.5},{"p":"S","i":9,"j":12,"v":3.9},{"p":"S","i":10,"j":12,"v":4.2},{"p":"S","i":11,"j":12,"v":4.5},{"p":"S","i":12,"j":12,"v":4.7},{"p":"S","i":13,"j":12,"v":4.9},
{"p":"S","i":0,"j":13,"v":2.5},{"p":"S","i":1,"j":13,"v":2.5},{"p":"S","i":2,"j":13,"v":2.5},{"p":"S","i":3,"j":13,"v":2.5},{"p":"S","i":4,"j":13,"v":2.5},{"p":"S","i":5,"j":13,"v":2.5},{"p":"S","i":6,"j":13,"v":2.5},{"p":"S","i":7,"j":13,"v":2.5},{"p":"S","i":8,"j":13,"v":2.5},{"p":"S","i":9,"j":13,"v":3.4},{"p":"S","i":10,"j":13,"v":3.8},{"p":"S","i":11,"j":13,"v":4.1},{"p":"S","i":12,"j":13,"v":4.3},{"p":"S","i":13,"j":13,"v":4.5},
{"p":"S","i":10,"j":14,"v":3.5},{"p":"S","i":11,"j":14,"v":3.8},{"p":"S","i":12,"j":14,"v":4.0},{"p":"S","i":13,"j":14,"v":4.2},
{"p":"S","i":11,"j":15,"v":3.5},{"p":"S","i":12,"j":15,"v":3.8},{"p":"S","i":13,"j":15,"v":4.0},
{"p":"S","i":11,"j":16,"v":3.0},{"p":"S","i":12,"j":16,"v":3.7},{"p":"S","i":13,"j":16,"v":3.9},
{"p":"M","k":"w","x":0.0194,"y":0.077},{"p":"M","k":"w","x":0.52,"y":2.0},
{"p":"L","k":"w","x":0.0194,"y":0.072},{"p":"L","k":"w","x":0.545,"y":2.0},
{"p":"H","k":"w","x":0.0194,"y":0.072},{"p":"H","k":"w","x":0.545,"y":2.0},
{"p":"S","k":"w","x":0.0194,"y":0.071},{"p":"S","k":"w","x":0.565,"y":2.0},
{"p":"M","k":"h","x":0.0205,"y":0.045},{"p":"M","k":"h","x":0.94,"y":2.0},
{"p":"L","k":"h","x":0.069,"y":0.0203},{"p":"L","k":"h","x":1.0,"y":0.29},
{"p":"H","k":"h","x":0.0319,"y":0.0203},{"p":"H","k":"h","x":1.0,"y":0.61},
{"p":"S","k":"h","x":0.069,"y":0.0203},{"p":"S","k":"h","x":1.0,"y":0.29},
{"p":"L","k":"s","s":"c1","x":0.0194,"y":1.76},{"p":"L","k":"s","s":"c1","x":0.025,"y":1.75},{"p":"L","k":"s","s":"c1","x":0.03,"y":1.77},{"p":"L","k":"s","s":"c1","x":0.036,"y":1.76},{"p":"L","k":"s","s":"c1","x":0.041,"y":1.82},{"p":"L","k":"s","s":"c1","x":0.046,"y":1.77},{"p":"L","k":"s","s":"c1","x":0.055,"y":1.78},{"p":"L","k":"s","s":"c1","x":0.065,"y":1.77},{"p":"L","k":"s","s":"c1","x":0.08,"y":1.79},{"p":"L","k":"s","s":"c1","x":0.1,"y":1.78},{"p":"L","k":"s","s":"c1","x":0.114,"y":1.8},{"p":"L","k":"s","s":"c1","x":0.13,"y":1.86},{"p":"L","k":"s","s":"c1","x":0.155,"y":1.93},{"p":"L","k":"s","s":"c1","x":0.18,"y":1.92},{"p":"L","k":"s","s":"c1","x":0.2,"y":1.96},{"p":"L","k":"s","s":"c1","x":0.217,"y":2.0},
{"p":"H","k":"s","s":"c10","x":0.0194,"y":0.435},{"p":"H","k":"s","s":"c10","x":0.06,"y":0.436},{"p":"H","k":"s","s":"c10","x":0.09,"y":0.438},{"p":"H","k":"s","s":"c10","x":0.11,"y":0.448},{"p":"H","k":"s","s":"c10","x":0.132,"y":0.481},
{"p":"H","k":"s","s":"c5","x":0.0194,"y":0.422},{"p":"H","k":"s","s":"c5","x":0.06,"y":0.423},{"p":"H","k":"s","s":"c5","x":0.09,"y":0.427},{"p":"H","k":"s","s":"c5","x":0.11,"y":0.44},{"p":"H","k":"s","s":"c5","x":0.132,"y":0.481},
{"p":"H","k":"s","s":"c1","x":0.0194,"y":0.365},{"p":"H","k":"s","s":"c1","x":0.04,"y":0.367},{"p":"H","k":"s","s":"c1","x":0.062,"y":0.372},{"p":"H","k":"s","s":"c1","x":0.08,"y":0.38},{"p":"H","k":"s","s":"c1","x":0.095,"y":0.392},{"p":"H","k":"s","s":"c1","x":0.115,"y":0.425},{"p":"H","k":"s","s":"c1","x":0.132,"y":0.481},
{"p":"S","k":"s","s":"c5","x":0.0194,"y":1.86},{"p":"S","k":"s","s":"c5","x":0.03,"y":1.87},{"p":"S","k":"s","s":"c5","x":0.0363,"y":1.82},{"p":"S","k":"s","s":"c5","x":0.0399,"y":1.76},{"p":"S","k":"s","s":"c5","x":0.0456,"y":1.84},{"p":"S","k":"s","s":"c5","x":0.053,"y":1.77},{"p":"S","k":"s","s":"c5","x":0.064,"y":1.86},{"p":"S","k":"s","s":"c5","x":0.092,"y":1.87},{"p":"S","k":"s","s":"c5","x":0.135,"y":1.89},{"p":"S","k":"s","s":"c5","x":0.197,"y":1.9},{"p":"S","k":"s","s":"c5","x":0.26,"y":1.93},{"p":"S","k":"s","s":"c5","x":0.31,"y":1.96},{"p":"S","k":"s","s":"c5","x":0.35,"y":2.0},
{"p":"S","k":"s","s":"c1","x":0.0194,"y":1.04},{"p":"S","k":"s","s":"c1","x":0.03,"y":1.05},{"p":"S","k":"s","s":"c1","x":0.045,"y":1.04},{"p":"S","k":"s","s":"c1","x":0.06,"y":1.06},{"p":"S","k":"s","s":"c1","x":0.08,"y":1.05},{"p":"S","k":"s","s":"c1","x":0.1,"y":1.07},{"p":"S","k":"s","s":"c1","x":0.13,"y":1.06},{"p":"S","k":"s","s":"c1","x":0.17,"y":1.08},{"p":"S","k":"s","s":"c1","x":0.2,"y":1.07},{"p":"S","k":"s","s":"c1","x":0.25,"y":1.09},{"p":"S","k":"s","s":"c1","x":0.31,"y":1.11},
{"p":"S","k":"s","s":"t","x":0.31,"y":1.11},{"p":"S","k":"s","s":"t","x":0.555,"y":2.0},
{"p":"M","k":"l","t":"MWA","x":0.0294,"y":1.206},{"p":"M","k":"l","t":"Unity","x":0.0294,"y":0.911},{"p":"M","k":"l","t":"Weights","x":0.0294,"y":0.688},
{"p":"L","k":"l","t":"LOFAR","x":0.0294,"y":1.206},{"p":"L","k":"l","t":"Unity","x":0.0294,"y":0.911},{"p":"L","k":"l","t":"Weights","x":0.0294,"y":0.688},
{"p":"H","k":"l","t":"HERA","x":0.0294,"y":1.206},{"p":"H","k":"l","t":"Unity","x":0.0294,"y":0.911},{"p":"H","k":"l","t":"Weights","x":0.0294,"y":0.688},
{"p":"S","k":"l","t":"SKA-1","x":0.0294,"y":1.206},{"p":"S","k":"l","t":"Unity","x":0.0294,"y":0.911},{"p":"S","k":"l","t":"Weights","x":0.0294,"y":0.688},
{"p":"H","k":"a","x":0.312,"y":3.11,"xe":0.0989,"ye":0.643},
{"p":"H","k":"ah","x":0.0907,"y":0.571},
{"p":"H","k":"tr","t":"21 cm Signal = {","s":"w","x":0.1542,"y":4.06},
{"p":"H","k":"tl","t":"1","s":"c1","x":0.1557,"y":4.06},
{"p":"H","k":"tl","t":",","s":"w","x":0.2017,"y":4.06},
{"p":"H","k":"tl","t":"5","s":"c5","x":0.2297,"y":4.06},
{"p":"H","k":"tl","t":",","s":"w","x":0.2976,"y":4.06},
{"p":"H","k":"tl","t":"10","s":"c10","x":0.3388,"y":4.06},
{"p":"H","k":"tl","t":"} x Modeling Bias","s":"w","x":0.5636,"y":4.06}
]},
"vconcat":[
{
"data":{"name":"m"},
"transform":[
{"lookup":"i","from":{"data":{"name":"xb"},"key":"i","fields":["x","xe"]},"as":["cx","cxe"]},
{"lookup":"j","from":{"data":{"name":"yb"},"key":"j","fields":["y","ye"]},"as":["cy","cye"]}
],
"facet":{"column":{"field":"p","type":"nominal","sort":["M","L","H","S"],"header":{"labels":false},"title":null}},
"spacing":{"column":18},
"bounds":"flush",
"spec":{
"width":213,"height":294,
"encoding":{
"x":{"field":"x","type":"quantitative","scale":{"type":"log","domain":[0.0194,1],"nice":false},"axis":{"values":[0.1,1],"labelExpr":"datum.value < 0.5 ? '10⁻¹' : '10⁰'","title":"k⊥ (hMpc⁻¹)","grid":true,"ticks":false,"domain":false,"labelFlush":false,"labelPadding":4,"titlePadding":4,"zindex":1}},
"y":{"field":"y","type":"quantitative","scale":{"type":"log","domain":[0.0203,2],"nice":false},"axis":{"values":[0.1,1],"labelExpr":"datum.value < 0.5 ? '10⁻¹' : '10⁰'","title":"k∥ (hMpc⁻¹)","grid":true,"ticks":false,"domain":false,"labelPadding":6,"titlePadding":12,"zindex":1}}
},
"layer":[
{"transform":[{"filter":"isValid(datum.v)"}],
 "mark":{"type":"rect","clip":true,"strokeWidth":0.8},
 "encoding":{
  "x":{"field":"cx","type":"quantitative","scale":{"type":"log","domain":[0.0194,1],"nice":false},"title":"k⊥ (hMpc⁻¹)"},
  "x2":{"field":"cxe"},
  "y":{"field":"cy","type":"quantitative","scale":{"type":"log","domain":[0.0203,2],"nice":false},"title":"k∥ (hMpc⁻¹)"},
  "y2":{"field":"cye"},
  "fill":{"field":"v","type":"quantitative","scale":{"scheme":"inferno","domain":[2,13]},"legend":null},
  "stroke":{"field":"v","type":"quantitative","scale":{"scheme":"inferno","domain":[2,13]},"legend":null}}},
{"transform":[{"filter":"datum.k=='w'"}],"mark":{"type":"line","color":"#8e8e8e","strokeWidth":2,"clip":true},"encoding":{}},
{"transform":[{"filter":"datum.k=='h'"}],"mark":{"type":"line","color":"#6f6f6f","strokeWidth":2.2,"clip":true},"encoding":{}},
{"transform":[{"filter":"datum.k=='h'"}],"mark":{"type":"line","color":"#ffffff","strokeWidth":2.2,"strokeDash":[5,5],"clip":true},"encoding":{}},
{"transform":[{"filter":"datum.k=='s'"}],"mark":{"type":"line","strokeWidth":2.6,"clip":true},
 "encoding":{"color":{"field":"s","type":"nominal","scale":{"domain":["c1","c5","c10","t","w"],"range":["#3fc7d9","#f2a01f","#e5412e","#58b4b8","#ffffff"]},"legend":null}}},
{"transform":[{"filter":"datum.k=='l'"}],"mark":{"type":"text","align":"left","baseline":"alphabetic","font":"Liberation Serif","fontSize":16,"color":"#efe6f2","opacity":0.9},"encoding":{"text":{"field":"t"}}},
{"transform":[{"filter":"datum.k=='a'"}],"mark":{"type":"rule","color":"#ffffff","strokeWidth":4.5},"encoding":{"x2":{"field":"xe"},"y2":{"field":"ye"}}},
{"transform":[{"filter":"datum.k=='ah'"}],"mark":{"type":"point","shape":"triangle","angle":211.5,"size":450,"filled":true,"color":"#ffffff","opacity":1},"encoding":{}},
{"transform":[{"filter":"datum.k=='tr'"}],"mark":{"type":"text","align":"right","baseline":"alphabetic","font":"DejaVu Sans","fontSize":21.5},
 "encoding":{"text":{"field":"t"},"color":{"field":"s","type":"nominal","scale":{"domain":["c1","c5","c10","t","w"],"range":["#3fc7d9","#f2a01f","#e5412e","#58b4b8","#ffffff"]},"legend":null}}},
{"transform":[{"filter":"datum.k=='tl'"}],"mark":{"type":"text","align":"left","baseline":"alphabetic","font":"DejaVu Sans","fontSize":21.5},
 "encoding":{"text":{"field":"t"},"color":{"field":"s","type":"nominal","scale":{"domain":["c1","c5","c10","t","w"],"range":["#3fc7d9","#f2a01f","#e5412e","#58b4b8","#ffffff"]},"legend":null}}}
]
}
},
{
"data":{"name":"cb"},
"width":906,"height":34,
"mark":{"type":"rect","strokeWidth":0.6},
"encoding":{
"x":{"field":"a","type":"quantitative","scale":{"domain":[2,13],"nice":false,"zero":false},"axis":{"orient":"top","values":[3,4.5,6,7.5,9,10.5,12],"format":".1f","title":"log₁₀ Pcal(k) h⁻³Mpc³ mK²","grid":false,"ticks":false,"domain":false,"labelPadding":6,"titlePadding":3,"labelFontSize":17,"titleFontSize":21}},
"x2":{"field":"b"},
"fill":{"field":"a","type":"quantitative","scale":{"scheme":"inferno","domain":[2,13]},"legend":null},
"stroke":{"field":"a","type":"quantitative","scale":{"scheme":"inferno","domain":[2,13]},"legend":null}
}
}
],
"spacing":408,
"bounds":"flush",
"resolve":{"scale":{"x":"independent","y":"independent"}},
"config":{
"view":{"stroke":"#b3b3b3","strokeWidth":1},
"axis":{"labelFont":"Liberation Serif","titleFont":"Liberation Serif","labelColor":"#dcdcdc","titleColor":"#e8e8e8","labelFontSize":15,"titleFontSize":17,"titleFontWeight":"normal","gridColor":"#ffffff","gridOpacity":0.4,"gridDash":[1,3],"gridWidth":1},
"text":{"font":"Liberation Serif"}
}
}
